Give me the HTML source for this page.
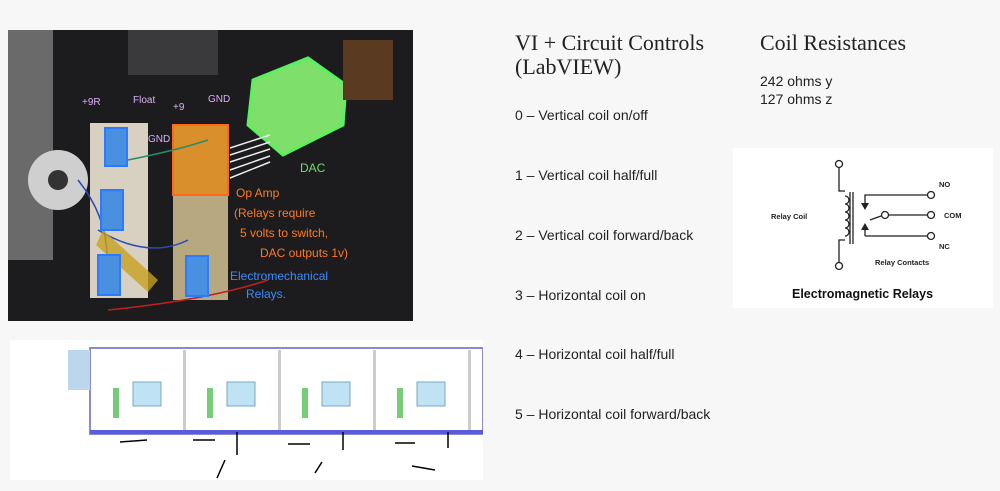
<!DOCTYPE html>
<html><head><style>
body{margin:0;width:1000px;height:491px;background:#f7f7f7;position:relative;overflow:hidden;font-family:"Liberation Sans",sans-serif}
.t{position:absolute;white-space:nowrap}
.h{font-family:"Liberation Serif",serif;font-size:22px;color:#222;line-height:24px}
.l{font-size:14px;color:#222}
</style></head><body>
<svg style="position:absolute;left:8px;top:30px" width="405" height="291" viewBox="0 0 405 291">
<rect width="405" height="291" fill="#1c1c1e"/>
<rect x="0" y="0" width="45" height="230" fill="#6a6a6a"/>
<rect x="120" y="0" width="90" height="45" fill="#3a3a3c"/>
<circle cx="50" cy="150" r="30" fill="#cfcfcf"/><circle cx="50" cy="150" r="10" fill="#333"/>
<rect x="82" y="93" width="58" height="175" fill="#d8d0c0"/>
<rect x="165" y="95" width="55" height="175" fill="#b8a880"/>
<rect x="165" y="95" width="55" height="70" fill="#d9902c" stroke="#ff6a1a" stroke-width="2"/>
<g stroke-width="1.5" fill="none"><path d="M70 150 Q110 200 95 260" stroke="#2a4ab0"/><path d="M120 130 Q170 120 200 110" stroke="#2a8a6a"/><path d="M90 200 Q140 230 180 210" stroke="#2a4ab0"/><path d="M100 280 Q200 270 260 250" stroke="#c02020"/></g>
<path d="M95 200 L150 250 L140 262 L88 215 Z" fill="#c8a020" opacity="0.8"/>
<rect x="97" y="98" width="22" height="38" fill="#4a90e0" stroke="#2a7bff" stroke-width="2"/>
<rect x="93" y="160" width="22" height="40" fill="#4a90e0" stroke="#2a7bff" stroke-width="2"/>
<rect x="90" y="225" width="22" height="40" fill="#4a90e0" stroke="#2a7bff" stroke-width="2"/>
<rect x="178" y="226" width="22" height="40" fill="#4a90e0" stroke="#2a7bff" stroke-width="2"/>
<path d="M245 50 L300 28 L338 55 L335 95 L275 125 L240 95 Z" fill="#7ee06a" stroke="#5cf060" stroke-width="3"/>
<rect x="335" y="10" width="50" height="60" fill="#5a3a20"/>
<g stroke="#eee" stroke-width="1.5"><line x1="222" y1="118" x2="262" y2="105"/><line x1="222" y1="125" x2="262" y2="112"/><line x1="222" y1="132" x2="262" y2="119"/><line x1="222" y1="140" x2="262" y2="126"/><line x1="222" y1="148" x2="262" y2="132"/></g>
<g font-family="Liberation Sans,sans-serif" font-size="10" fill="#d9b0f0"><text x="74" y="75">+9R</text><text x="125" y="73">Float</text><text x="165" y="80">+9</text><text x="200" y="72">GND</text><text x="140" y="112">GND</text></g>
<text x="292" y="142" font-size="12" fill="#6ae06a" font-family="Liberation Sans,sans-serif">DAC</text>
<g font-size="12" fill="#ff7a20" font-family="Liberation Sans,sans-serif"><text x="228" y="167">Op Amp</text><text x="226" y="187">(Relays require</text><text x="232" y="207">5 volts to switch,</text><text x="252" y="227">DAC outputs 1v)</text></g>
<g font-size="12" fill="#3a8cff" font-family="Liberation Sans,sans-serif"><text x="222" y="250">Electromechanical</text><text x="238" y="268">Relays.</text></g>
</svg>
<svg style="position:absolute;left:10px;top:340px" width="473" height="140" viewBox="0 0 473 140">
<rect width="473" height="140" fill="#fff"/>
<rect x="80" y="8" width="393" height="86" fill="#fff" stroke="#8a8ad0" stroke-width="2"/>
<rect x="80" y="90" width="393" height="4" fill="#5a5adf"/>
<g fill="#ccc"><rect x="173" y="10" width="3" height="80"/><rect x="268" y="10" width="3" height="80"/><rect x="363" y="10" width="3" height="80"/><rect x="458" y="10" width="3" height="80"/></g>
<rect x="58" y="10" width="22" height="40" fill="#bcd6ee"/>
<g fill="#bfe2f5" stroke="#7ab"><rect x="123" y="42" width="28" height="24"/><rect x="217" y="42" width="28" height="24"/><rect x="312" y="42" width="28" height="24"/><rect x="407" y="42" width="28" height="24"/></g>
<g fill="#7c7"><rect x="103" y="48" width="6" height="30"/><rect x="197" y="48" width="6" height="30"/><rect x="292" y="48" width="6" height="30"/><rect x="387" y="48" width="6" height="30"/></g>
<g stroke="#000" stroke-width="1.5"><line x1="110" y1="102" x2="137" y2="100"/><line x1="183" y1="100" x2="205" y2="100"/><line x1="227" y1="115" x2="227" y2="92"/><line x1="278" y1="104" x2="300" y2="104"/><line x1="333" y1="110" x2="333" y2="92"/><line x1="385" y1="103" x2="405" y2="103"/><line x1="438" y1="108" x2="438" y2="92"/><line x1="207" y1="138" x2="215" y2="120"/><line x1="305" y1="133" x2="312" y2="122"/><line x1="402" y1="126" x2="425" y2="130"/></g>
</svg>
<div class="t h" style="left:515px;top:31px">VI + Circuit Controls<br>(LabVIEW)</div>
<div class="t h" style="left:760px;top:31px">Coil Resistances</div>
<div class="t l" style="left:760px;top:72px;line-height:18px">242 ohms y<br>127 ohms z</div>
<div class="t l" style="left:515px;top:107px">0 – Vertical coil on/off</div>
<div class="t l" style="left:515px;top:167px">1 – Vertical coil half/full</div>
<div class="t l" style="left:515px;top:227px">2 – Vertical coil forward/back</div>
<div class="t l" style="left:515px;top:287px">3 – Horizontal coil on</div>
<div class="t l" style="left:515px;top:346px">4 – Horizontal coil half/full</div>
<div class="t l" style="left:515px;top:406px">5 – Horizontal coil forward/back</div>
<svg style="position:absolute;left:733px;top:148px" width="260" height="160" viewBox="0 0 260 160">
<rect width="260" height="160" fill="#fff"/>
<g stroke="#222" stroke-width="1.3" fill="none">
<circle cx="106" cy="16" r="3.5"/><circle cx="106" cy="118" r="3.5"/>
<path d="M106 20 V43 H112 M112 92 H106 V114"/>
<path d="M112 48 a4 4 0 0 1 0 8 a4 4 0 0 1 0 8 a4 4 0 0 1 0 8 a4 4 0 0 1 0 8 a4 4 0 0 1 0 8"/>
<line x1="117" y1="44" x2="117" y2="96"/><line x1="120" y1="44" x2="120" y2="96"/>
<path d="M132 55 V47 H195"/><path d="M132 88 V77"/><path d="M132 88 H195"/>
<path d="M137 72 L148 68"/><circle cx="152" cy="67" r="3.5"/><path d="M156 67 H194"/>
<circle cx="198" cy="47" r="3.5"/><circle cx="198" cy="67" r="3.5"/><circle cx="198" cy="88" r="3.5"/>
</g>
<path d="M128 55 L136 55 L132 62 Z M128 82 L136 82 L132 75 Z" fill="#222"/>
<g font-family="Liberation Sans,sans-serif" font-size="7.5" font-weight="bold" fill="#222">
<text x="206" y="39">NO</text><text x="211" y="70">COM</text><text x="206" y="101">NC</text>
<text x="38" y="71">Relay Coil</text><text x="142" y="117">Relay Contacts</text></g>
<text x="59" y="150" font-family="Liberation Sans,sans-serif" font-size="12.5" font-weight="bold" fill="#111">Electromagnetic Relays</text>
</svg>
</body></html>
